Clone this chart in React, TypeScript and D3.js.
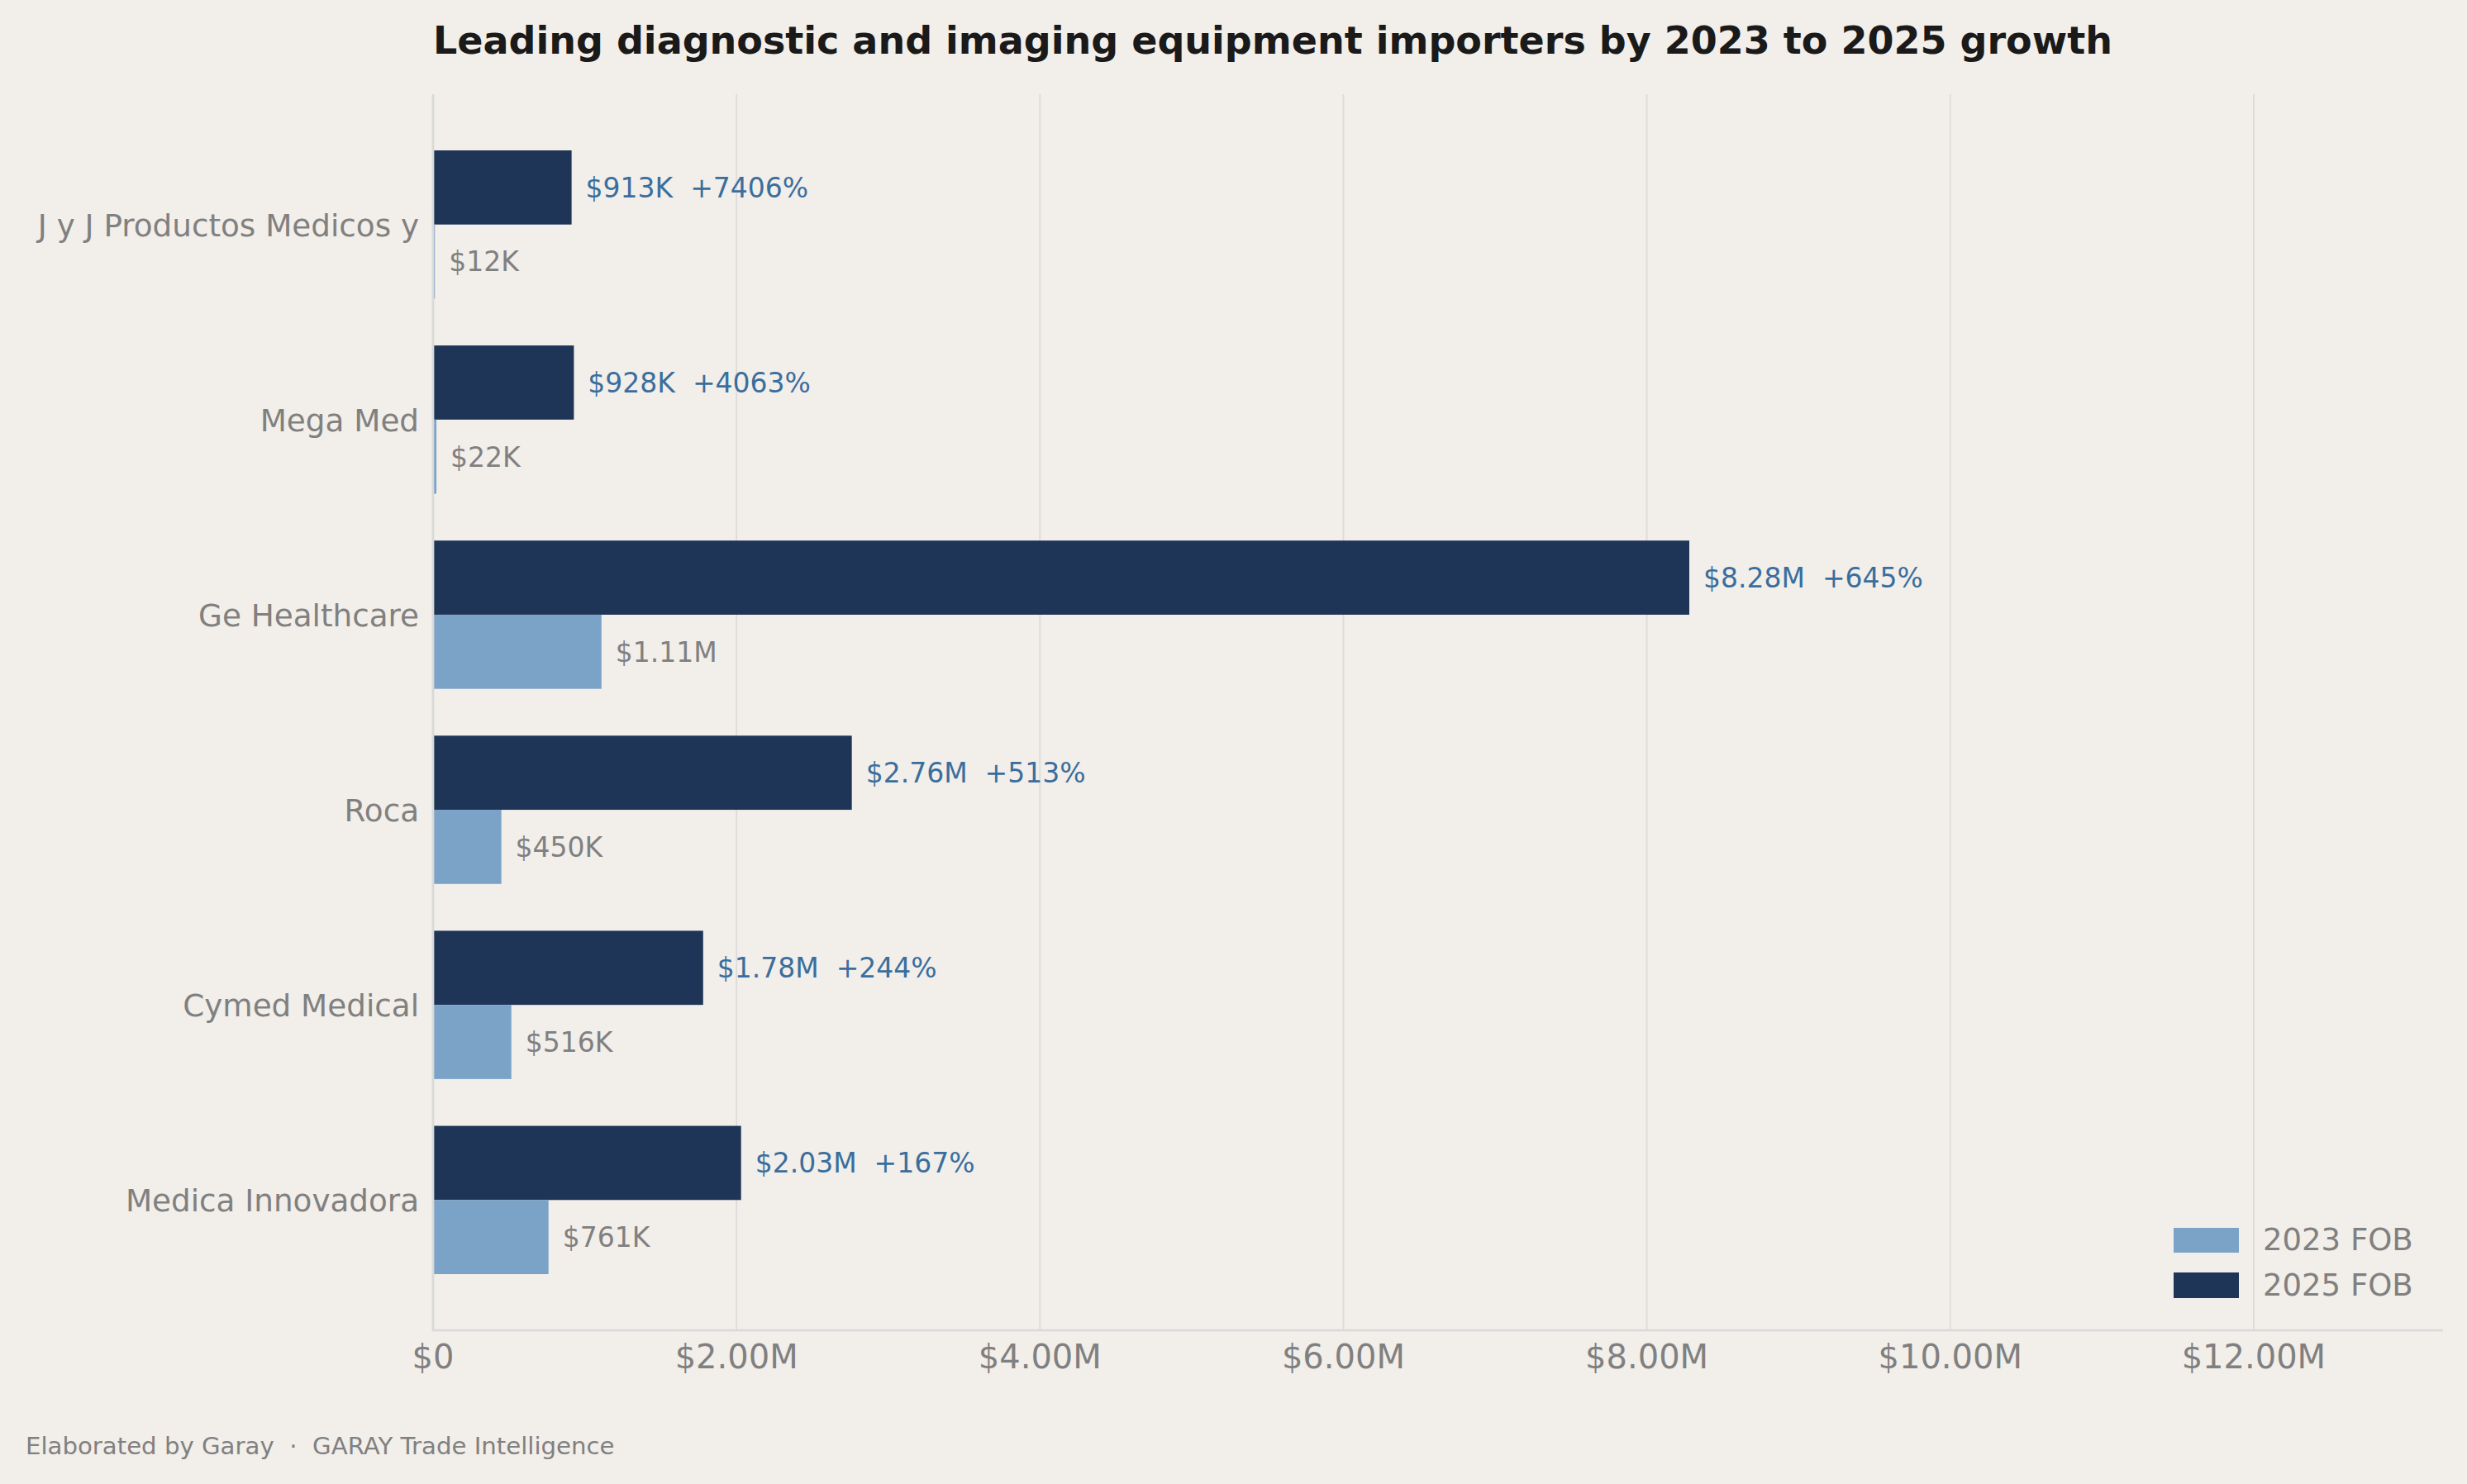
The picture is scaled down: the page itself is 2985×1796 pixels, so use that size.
import React from "react";
import * as d3 from "d3";

const categories = [
  "J y J Productos Medicos y",
  "Mega Med",
  "Ge Healthcare",
  "Roca",
  "Cymed Medical",
  "Medica Innovadora",
];
const fob2023 = [12000, 22000, 1110000, 450000, 516000, 761000];
const fob2025 = [913000, 928000, 8280000, 2760000, 1780000, 2030000];
const growthPct = [7406, 4063, 645, 513, 244, 167];
const xTicks = [0, 2e6, 4e6, 6e6, 8e6, 10e6, 12e6];
const seriesNames = ["2023 FOB", "2025 FOB"];

const W = 2985;
const H = 1796;
const BG = "#f2eee9";
const C2023 = "#7ba3c8";
const C2025 = "#1e3557";
const LABEL_BLUE = "#3a6e9e";
const GRAY = "#808080";
const GRID = "#dcdcdb";
const FONT = "DejaVu Sans, Verdana, sans-serif";

const left = 524;
const right = 2956;
const top = 114;
const bottom = 1610;
const barH = 0.38;

function fmtVal(v: number): string {
  if (v >= 1e6) return "$" + (v / 1e6).toFixed(2) + "M";
  return "$" + Math.round(v / 1e3) + "K";
}
function fmtTick(v: number): string {
  if (v === 0) return "$0";
  return "$" + (v / 1e6).toFixed(2) + "M";
}

export default function App() {
  React.useEffect(() => {
    document.body.style.margin = "0";
    document.body.style.background = BG;
  }, []);

  const xMax = d3.max(fob2025)! * 1.6;
  const x = d3.scaleLinear().domain([0, xMax]).range([left, right]);
  const n = categories.length;
  const pad = 0.05 * (n - 1 + 2 * barH);
  const y = d3
    .scaleLinear()
    .domain([-barH - pad, n - 1 + barH + pad])
    .range([top, bottom]);
  const bh = y(barH) - y(0);

  return (
    <svg
      width={W}
      height={H}
      viewBox={`0 0 ${W} ${H}`}
      style={{ position: "absolute", left: 0, top: 0, display: "block", background: BG }}
      fontFamily={FONT}
    >
      <rect x={0} y={0} width={W} height={H} fill={BG} />
      {/* title */}
      <text x={left} y={65} fontSize={46} fontWeight="bold" fill="#1a1a1a">
        Leading diagnostic and imaging equipment importers by 2023 to 2025 growth
      </text>

      {/* grid */}
      {xTicks.map((t) => (
        <line key={"g" + t} x1={x(t)} x2={x(t)} y1={top} y2={bottom} stroke={GRID} strokeWidth={1.8} />
      ))}

      {/* bars */}
      {categories.map((c, i) => (
        <g key={c}>
          <rect x={x(0)} y={y(i) - bh} width={x(fob2025[i]) - x(0)} height={bh} fill={C2025} />
          <rect x={x(0)} y={y(i)} width={x(fob2023[i]) - x(0)} height={bh} fill={C2023} />
          <text
            x={x(fob2025[i]) + 17}
            y={y(i) - bh / 2}
            dy="0.36em"
            fontSize={33}
            fill={LABEL_BLUE}
            style={{ whiteSpace: "pre" }}
          >
            {`${fmtVal(fob2025[i])}  +${growthPct[i]}%`}
          </text>
          <text x={x(fob2023[i]) + 17} y={y(i) + bh / 2} dy="0.36em" fontSize={33} fill={GRAY}>
            {fmtVal(fob2023[i])}
          </text>
          <text x={left - 17} y={y(i)} dy="0.37em" fontSize={37.3} fill={GRAY} textAnchor="end">
            {c}
          </text>
        </g>
      ))}

      {/* spines */}
      <line x1={left} x2={left} y1={top} y2={bottom} stroke="#d9d9d9" strokeWidth={2.7} />
      <line x1={left - 1.3} x2={right} y1={bottom} y2={bottom} stroke="#d9d9d9" strokeWidth={2.7} />

      {/* x tick labels */}
      {xTicks.map((t) => (
        <text key={"t" + t} x={x(t)} y={1656} fontSize={40} fill={GRAY} textAnchor="middle">
          {fmtTick(t)}
        </text>
      ))}

      {/* legend */}
      <rect x={2630} y={1486} width={79} height={30} fill={C2023} />
      <text x={2738} y={1513} fontSize={37} fill={GRAY}>{seriesNames[0]}</text>
      <rect x={2630} y={1540} width={79} height={31} fill={C2025} />
      <text x={2738} y={1568} fontSize={37} fill={GRAY}>{seriesNames[1]}</text>

      {/* footer */}
      <text x={31} y={1760} fontSize={29.2} fill={GRAY} style={{ whiteSpace: "pre" }}>
        {"Elaborated by Garay  ·  GARAY Trade Intelligence"}
      </text>
    </svg>
  );
}
